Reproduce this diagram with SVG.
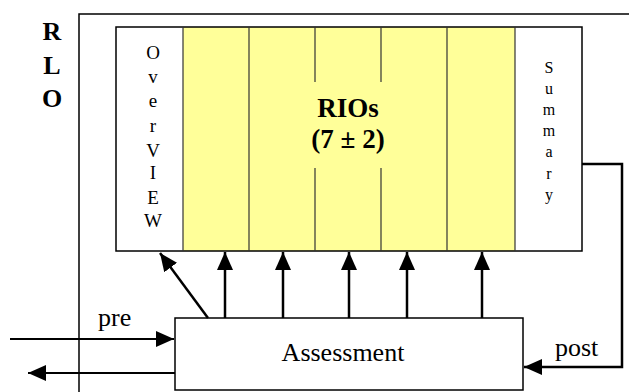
<svg xmlns="http://www.w3.org/2000/svg" width="629" height="392" viewBox="0 0 629 392">
<style>
.t{font-family:"Liberation Serif","Times New Roman",Times,serif;fill:#000}
.b{font-weight:bold}
.box{fill:#fff;stroke:#000;stroke-width:1.5}
.col{fill:#ffff99;stroke:none}
.div{stroke:#333;stroke-width:1.2}
.arr{stroke:#000;stroke-width:2.5;fill:none}
</style>
<defs>
<marker id="ah" viewBox="0 0 18 16" refX="18" refY="8" markerWidth="18" markerHeight="16" markerUnits="userSpaceOnUse" orient="auto">
<path d="M0,0 L18,8 L0,16 z" fill="#000"/>
</marker>
</defs>
<g id="rlo-frame">
<path d="M79,392 V14 H629" fill="none" stroke="#000" stroke-width="1.5"/>
<text class="t b" x="52" y="40" font-size="26" text-anchor="middle">R</text>
<text class="t b" x="52" y="74" font-size="26" text-anchor="middle">L</text>
<text class="t b" x="52" y="107" font-size="26" text-anchor="middle">O</text>
</g>
<g id="rlo-box">
<rect x="183" y="27" width="332" height="224" class="col"/>
<rect x="116" y="27" width="466" height="224" fill="none" stroke="#000" stroke-width="1.5"/>
<line class="div" x1="183" y1="27" x2="183" y2="251"/>
<line class="div" x1="249" y1="27" x2="249" y2="251"/>
<line class="div" x1="315" y1="27" x2="315" y2="82"/>
<line class="div" x1="315" y1="168" x2="315" y2="251"/>
<line class="div" x1="381" y1="27" x2="381" y2="82"/>
<line class="div" x1="381" y1="168" x2="381" y2="251"/>
<line class="div" x1="447" y1="27" x2="447" y2="251"/>
<line class="div" x1="515" y1="27" x2="515" y2="251"/>
</g>
<g id="overview">
<g class="t" font-size="19" text-anchor="middle">
<text x="153" y="59">O</text>
<text x="153" y="83">v</text>
<text x="153" y="107">e</text>
<text x="153" y="132">r</text>
<text x="153" y="157">V</text>
<text x="153" y="179">I</text>
<text x="153" y="204">E</text>
<text x="153" y="227">W</text>
</g>
</g>
<g id="rios">
<text class="t b" x="348" y="117" font-size="27" text-anchor="middle">RIOs</text>
<text class="t b" x="348" y="148" font-size="27" text-anchor="middle">(7 ± 2)</text>
</g>
<g id="summary">
<g class="t" font-size="16" text-anchor="middle">
<text x="549" y="73">S</text>
<text x="549" y="94">u</text>
<text x="549" y="115">m</text>
<text x="549" y="136">m</text>
<text x="549" y="157">a</text>
<text x="549" y="179">r</text>
<text x="549" y="200">y</text>
</g>
</g>
<g id="assessment">
<rect class="box" x="175" y="318" width="348" height="72"/>
<text class="t" x="343" y="361" font-size="26" text-anchor="middle">Assessment</text>
</g>
<g id="connectors">
<line class="arr" x1="208" y1="318" x2="160" y2="253" marker-end="url(#ah)"/>
<line class="arr" x1="225" y1="318" x2="225" y2="252" marker-end="url(#ah)"/>
<line class="arr" x1="283" y1="318" x2="283" y2="252" marker-end="url(#ah)"/>
<line class="arr" x1="349" y1="318" x2="349" y2="252" marker-end="url(#ah)"/>
<line class="arr" x1="407" y1="318" x2="407" y2="252" marker-end="url(#ah)"/>
<line class="arr" x1="482" y1="318" x2="482" y2="252" marker-end="url(#ah)"/>
<polyline class="arr" points="582,164 622,164 622,367 524,367" marker-end="url(#ah)"/>
<line x1="10" y1="339" x2="174" y2="339" stroke="#000" stroke-width="2" marker-end="url(#ah)"/>
<line x1="175" y1="373" x2="28" y2="373" stroke="#000" stroke-width="2" marker-end="url(#ah)"/>
<text class="t" x="98" y="326" font-size="26">pre</text>
<text class="t" x="555" y="356" font-size="26">post</text>
</g>
</svg>
